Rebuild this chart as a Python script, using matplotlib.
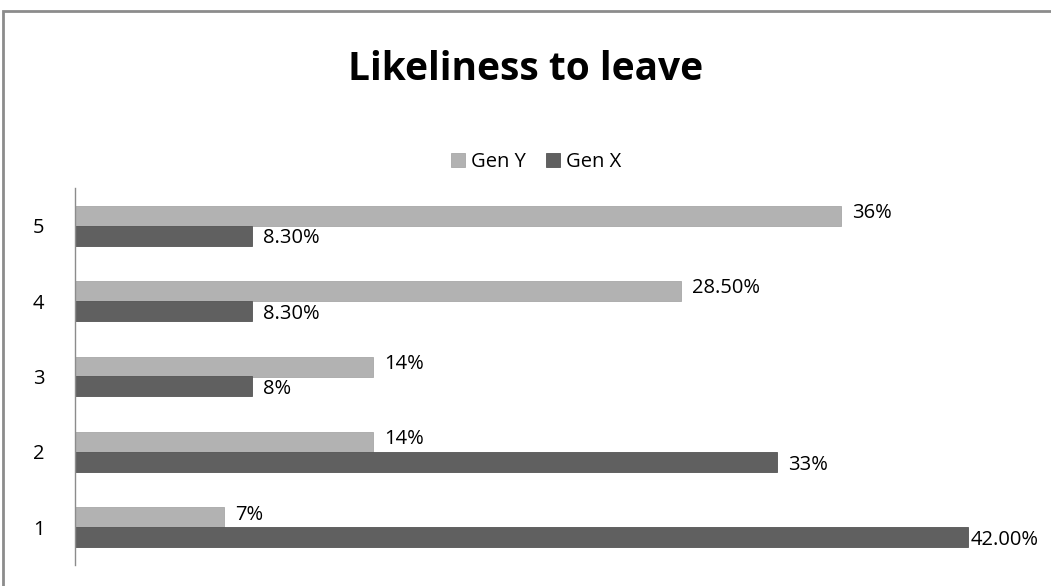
import matplotlib.pyplot as plt
from matplotlib.patches import Rectangle

categories = ["1", "2", "3", "4", "5"]
gen_y = [7, 14, 14, 28.5, 36]
gen_x = [42, 33, 8.3, 8.3, 8.3]
gen_y_labels = ["7%", "14%", "14%", "28.50%", "36%"]
gen_x_labels = ["42.00%", "33%", "8%", "8.30%", "8.30%"]

plt.rcParams["font.family"] = ["Open Sans", "DejaVu Sans"]

fig = plt.figure(figsize=(10.51, 5.86), dpi=100)
W, H = 1051, 586

# chart border (cropped on the right and bottom)
fig.patches.append(Rectangle((3 / W, -0.1), 1.2, 1 - 11 / H + 0.1,
                             transform=fig.transFigure, fill=False,
                             edgecolor="#8c8c8c", linewidth=2))

ax = fig.add_axes([75 / W, 21 / H, (1032 - 75) / W, (565 - 188) / H])
pos = list(range(1, len(categories) + 1))
h = 0.265
ax.barh([p + h / 2 for p in pos], gen_y, height=h, color="#b2b2b2",
        edgecolor="#a8a8a8", linewidth=0.6, label="Gen Y")
ax.barh([p - h / 2 for p in pos], gen_x, height=h, color="#606060",
        edgecolor="#555555", linewidth=0.6, label="Gen X")

for p, v, t in zip(pos, gen_y, gen_y_labels):
    ax.annotate(t, (v, p + h / 2), xytext=(8, 2), textcoords="offset points",
                va="center", ha="left", fontsize=14.5)
for p, v, t in zip(pos, gen_x, gen_x_labels):
    off = 2 if v == max(gen_x) else 8
    ax.annotate(t, (v, p - h / 2), xytext=(off, -2), textcoords="offset points",
                va="center", ha="left", fontsize=14.5)

ax.set_xlim(0, 45)
ax.set_ylim(0.5, 5.5)
ax.set_yticks(pos)
ax.set_yticklabels(categories, fontsize=14.5)
ax.tick_params(axis="y", length=0, pad=22)
ax.set_xticks([])
for s in ["top", "right", "bottom"]:
    ax.spines[s].set_visible(False)
ax.spines["left"].set_color("#8c8c8c")
ax.spines["left"].set_linewidth(1)

fig.text(0.5, 1 - 70 / H, "Likeliness to leave", ha="center", va="center",
         fontsize=28, fontweight="bold")
fig.legend(loc="center", bbox_to_anchor=(0.51, 1 - 162 / H), ncol=2,
           frameon=False, fontsize=14.5, handlelength=0.7, handleheight=0.7,
           handletextpad=0.3, columnspacing=1.0)

fig.savefig("out.png", dpi=100)
